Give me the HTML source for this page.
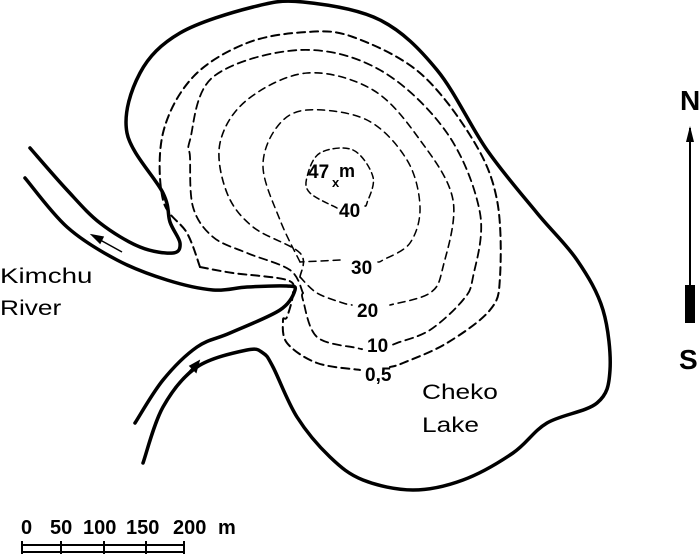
<!DOCTYPE html>
<html><head><meta charset="utf-8"><style>
html,body{margin:0;padding:0;background:#fff;width:700px;height:556px;overflow:hidden}
svg text{font-family:"Liberation Sans",sans-serif}
</style></head><body>
<svg id="s" width="700" height="556" viewBox="0 0 700 556" xmlns="http://www.w3.org/2000/svg">
<g id="g" fill="none" stroke="#000" stroke-linecap="round" stroke-linejoin="round"></g>
<g stroke="#000" stroke-width="1.5">
<line x1="93" y1="236" x2="122" y2="252"/>
<polygon points="92,235 103,237 100,243" fill="#000"/>
<line x1="175" y1="387" x2="198" y2="362"/>
<polygon points="199,361 196,372 190,366" fill="#000"/>
</g>
<g font-size="21">
<text transform="translate(0,283) scale(1.32,1)">Kimchu</text>
<text transform="translate(0,315) scale(1.25,1)">River</text>
<text transform="translate(422,399) scale(1.25,1)">Cheko</text>
<text transform="translate(422,432) scale(1.25,1)">Lake</text>
</g>
<g font-size="19" font-weight="bold">
<text x="308" y="178">47</text><text x="339" y="177" font-size="18">m</text>
<text x="332" y="187" font-size="13">x</text>
<text x="339" y="217">40</text>
<text x="351" y="274">30</text>
<text x="357" y="317">20</text>
<text x="367" y="352">10</text>
<text x="365" y="381">0,5</text>
<text x="680" y="110" font-size="28">N</text>
<text x="679" y="369" font-size="28">S</text>
</g>
<g font-size="20" font-weight="bold">
<text x="21" y="534">0</text>
<text x="50" y="534">50</text>
<text x="83" y="534">100</text>
<text x="126" y="534">150</text>
<text x="173" y="534">200</text>
<text x="218" y="534">m</text>
</g>
<line x1="690" y1="128" x2="690" y2="290" stroke="#000" stroke-width="2"/>
<polygon points="690,126 694,142 686,142" fill="#000"/>
<rect x="685" y="285" width="10" height="38" fill="#000"/>
<g stroke="#000" stroke-width="2">
<line x1="22" y1="545" x2="184" y2="545"/>
<line x1="22" y1="552" x2="184" y2="552"/>
<line x1="22" y1="541" x2="22" y2="554"/>
<line x1="61" y1="541" x2="61" y2="554"/>
<line x1="104" y1="541" x2="104" y2="554"/>
<line x1="146" y1="541" x2="146" y2="554"/>
<line x1="184" y1="541" x2="184" y2="554"/>
</g>
</svg>
<script>
function cr(p){let d="M"+p[0][0]+","+p[0][1];for(let i=0;i<p.length-1;i++){const a=p[i-1]||p[i],b=p[i],c=p[i+1],e=p[i+2]||c;d+=" C"+(b[0]+(c[0]-a[0])/6)+","+(b[1]+(c[1]-a[1])/6)+" "+(c[0]-(e[0]-b[0])/6)+","+(c[1]-(e[1]-b[1])/6)+" "+c[0]+","+c[1];}return d;}
const g=document.getElementById("g");
function add(p,w,dash){const e=document.createElementNS("http://www.w3.org/2000/svg","path");e.setAttribute("d",cr(p));e.setAttribute("stroke-width",w);if(dash)e.setAttribute("stroke-dasharray",dash);g.appendChild(e);}
add([[30,148],[67,190],[100,223],[140,247],[173,253],[180,243],[170,222],[163,193],[127,133],[140,73],[180,33],[253,7],[303,2],[380,20],[437,70],[487,150],[537,213],[577,260],[603,310],[610,370],[597,403],[547,423],[513,453],[463,480],[413,490],[363,480],[330,457],[297,417],[273,367],[263,353],[247,350],[197,367],[163,407],[143,463]],3.5);
add([[25,178],[67,227],[117,260],[167,280],[213,290],[247,287],[287,286],[295,290],[280,310],[230,333],[197,347],[163,380],[135,423]],3.5);
add([[200,267],[187,233],[163,200],[163,133],[193,77],[247,43],[307,32],[353,37],[420,73],[473,140],[497,200],[500,277],[490,310],[447,343],[403,363],[390,367]],2,"8,5");
add([[200,267],[233,273],[287,280],[293,293],[287,317],[283,320],[287,343],[317,363],[360,370]],2,"8,5");
add([[303,293],[290,270],[247,253],[213,237],[193,207],[190,157],[190,140],[213,77],[300,50],[380,70],[447,133],[480,213],[473,277],[463,300],[430,330],[397,343],[392,345]],1.8,"8,5");
add([[303,293],[303,300],[317,337],[357,348],[362,349]],1.8,"8,5");
add([[300,277],[300,253],[253,227],[227,193],[220,143],[247,100],[307,73],[373,90],[420,140],[453,200],[443,267],[430,293],[390,305]],1.6,"7,5");
add([[300,277],[317,293],[343,303],[352,305]],1.6,"7,5");
add([[300,262],[280,220],[263,167],[277,127],[307,110],[367,120],[407,160],[420,207],[410,243],[383,260],[378,262]],1.5,"7,5");
add([[340,260],[300,262]],1.5,"7,5");
add([[337,208],[310,193],[307,177],[320,153],[353,150],[373,177],[367,203],[365,206]],1.5,"6,4");
</script>
</body></html>
